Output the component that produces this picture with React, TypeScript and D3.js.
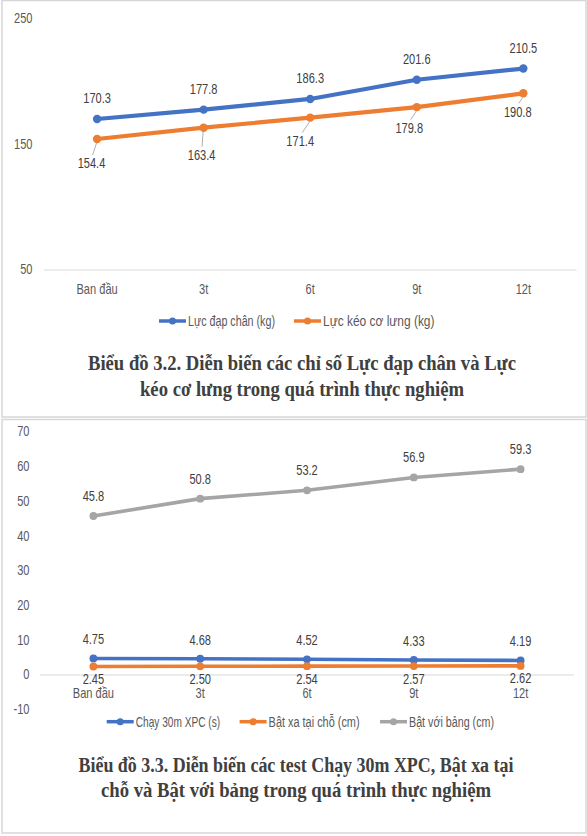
import React, { useEffect, useRef } from 'react';
import * as d3 from 'd3';

// time points
const categories = ['Ban đầu', '3t', '6t', '9t', '12t'];

// chart 3.2
const lucDapChan = [170.3, 177.8, 186.3, 201.6, 210.5];
const lucKeoCoLung = [154.4, 163.4, 171.4, 179.8, 190.8];
const yTicksTop = [50, 150, 250];

// chart 3.3
const chay30m = [4.75, 4.68, 4.52, 4.33, 4.19];
const batXa = [2.45, 2.5, 2.54, 2.57, 2.62];
const batVoiBang = [45.8, 50.8, 53.2, 56.9, 59.3];
const yTicksBottom = [-10, 0, 10, 20, 30, 40, 50, 60, 70];

const BLUE = '#4472C4';
const ORANGE = '#ED7D31';
const GRAY = '#A5A5A5';
const AXIS_FONT = "'Liberation Sans', 'Noto Sans', sans-serif";
const CAPTION_FONT = "'Liberation Serif', 'DejaVu Serif', serif";
const SQUEEZE = 0.79; // reference text is narrow (calibri-ish)

// hand placed label nudges for the orange series of chart 3.2 (like excel does)
const orangeNudge: [number, number][] = [[-5.6, 25], [-2, 28], [-10, 24], [-7.5, 21.5], [-5.6, 19]];

type G = d3.Selection<SVGGElement, unknown, null, undefined>;

const App: React.FC = () => {
    const ref = useRef<SVGSVGElement>(null);

    useEffect(() => {
        const svg = d3.select(ref.current);
        svg.selectAll('*').remove();

        svg.append('rect').attr('width', 587).attr('height', 836).attr('fill', '#ffffff');

        // panel frames
        svg.append('rect').attr('x', 2).attr('y', 0.5).attr('width', 584).attr('height', 416.5)
            .attr('fill', '#ffffff').attr('stroke', '#d6d6d6').attr('stroke-width', 1.5);
        svg.append('rect').attr('x', 2).attr('y', 419.5).attr('width', 584).attr('height', 413.5)
            .attr('fill', '#ffffff').attr('stroke', '#d6d6d6').attr('stroke-width', 1.5);

        // narrow text helper
        const txt = (g: G, x: number, y: number, s: string, anchor: string, fill: string) => {
            g.append('text')
                .attr('transform', `translate(${x},${y}) scale(${SQUEEZE},1)`)
                .attr('text-anchor', anchor).attr('dominant-baseline', 'central')
                .attr('font-family', AXIS_FONT).attr('font-size', 14).attr('fill', fill)
                .text(s);
        };

        const drawSeries = (
            g: G,
            x: d3.ScalePoint<string>,
            y: d3.ScaleLinear<number, number>,
            values: number[],
            color: string,
            width: number,
            r: number
        ) => {
            const line = d3.line<number>()
                .x((_, i) => x(categories[i]) as number)
                .y(d => y(d));
            g.append('path').datum(values).attr('d', line)
                .attr('fill', 'none').attr('stroke', color).attr('stroke-width', width)
                .attr('stroke-linejoin', 'round').attr('stroke-linecap', 'round');
            g.selectAll(null).data(values).enter().append('circle')
                .attr('cx', (_, i) => x(categories[i]) as number)
                .attr('cy', d => y(d))
                .attr('r', r).attr('fill', color);
        };

        const labels = (
            g: G,
            x: d3.ScalePoint<string>,
            y: d3.ScaleLinear<number, number>,
            values: number[],
            fmt: (v: number) => string,
            dy: number
        ) => {
            values.forEach((v, i) => txt(g, x(categories[i]) as number, y(v) + dy, fmt(v), 'middle', '#404040'));
        };

        const legend = (g: G, items: { label: string; color: string; x: number; w: number }[], cy: number) => {
            items.forEach(it => {
                g.append('line').attr('x1', it.x).attr('x2', it.x + 27).attr('y1', cy).attr('y2', cy)
                    .attr('stroke', it.color).attr('stroke-width', 3.5);
                g.append('circle').attr('cx', it.x + 13.5).attr('cy', cy).attr('r', 3.5).attr('fill', it.color);
                g.append('text').attr('x', it.x + 29).attr('y', cy).attr('dominant-baseline', 'central')
                    .attr('font-family', AXIS_FONT).attr('font-size', 14).attr('fill', '#595959')
                    .attr('textLength', it.w).attr('lengthAdjust', 'spacingAndGlyphs')
                    .text(it.label);
            });
        };

        const caption = (lines: { text: string; y: number; cx: number; w: number }[]) => {
            lines.forEach(l => {
                svg.append('text').attr('x', l.cx - l.w / 2).attr('y', l.y)
                    .attr('font-family', CAPTION_FONT).attr('font-weight', 'bold').attr('font-size', 20)
                    .attr('fill', '#404040')
                    .attr('textLength', l.w).attr('lengthAdjust', 'spacingAndGlyphs')
                    .text(l.text);
            });
        };

        // ---------- chart 3.2 ----------
        const x1 = d3.scalePoint<string>().domain(categories).range([43.8, 576.6]).padding(0.5);
        const y1 = d3.scaleLinear().domain([50, 250]).range([270, 19]);
        const g1 = svg.append('g');

        g1.append('line').attr('x1', 43.8).attr('x2', 576.6).attr('y1', y1(50)).attr('y2', y1(50))
            .attr('stroke', '#d9d9d9').attr('stroke-width', 1);

        yTicksTop.forEach(t => txt(g1, 32.5, y1(t), String(t), 'end', '#595959'));
        categories.forEach(c => txt(g1, x1(c) as number, 290, c, 'middle', '#595959'));

        drawSeries(g1, x1, y1, lucDapChan, BLUE, 4.2, 4.2);
        drawSeries(g1, x1, y1, lucKeoCoLung, ORANGE, 4.2, 4.2);
        labels(g1, x1, y1, lucDapChan, v => v.toFixed(1), -20.5);

        // orange labels sit below with leader lines
        lucKeoCoLung.forEach((v, i) => {
            const px = x1(categories[i]) as number;
            const py = y1(v);
            const [dx, dy] = orangeNudge[i];
            g1.append('line').attr('x1', px - 0.5).attr('y1', py + 4)
                .attr('x2', px + dx * 0.8).attr('y2', py + dy - 9)
                .attr('stroke', '#a6a6a6').attr('stroke-width', 0.9);
            txt(g1, px + dx, py + dy, v.toFixed(1), 'middle', '#404040');
        });

        legend(g1, [
            { label: 'Lực đạp chân (kg)', color: BLUE, x: 159, w: 87 },
            { label: 'Lực kéo cơ lưng (kg)', color: ORANGE, x: 294, w: 111.5 },
        ], 321);

        caption([
            { text: 'Biểu đồ 3.2. Diễn biến các chỉ số Lực đạp chân và Lực', y: 370, cx: 302, w: 428 },
            { text: 'kéo cơ lưng trong quá trình thực nghiệm', y: 396, cx: 302, w: 324 },
        ]);

        // ---------- chart 3.3 ----------
        const x2 = d3.scalePoint<string>().domain(categories).range([40, 574]).padding(0.5);
        const y2 = d3.scaleLinear().domain([-10, 70]).range([709.7, 432]);
        const g2 = svg.append('g');

        g2.append('line').attr('x1', 40).attr('x2', 574).attr('y1', y2(0)).attr('y2', y2(0))
            .attr('stroke', '#d9d9d9').attr('stroke-width', 1);

        yTicksBottom.forEach(t => txt(g2, 29.5, y2(t), String(t), 'end', '#595959'));
        categories.forEach(c => txt(g2, x2(c) as number, 694, c, 'middle', '#595959'));

        drawSeries(g2, x2, y2, chay30m, BLUE, 3.6, 3.9);
        drawSeries(g2, x2, y2, batXa, ORANGE, 3.6, 3.9);
        drawSeries(g2, x2, y2, batVoiBang, GRAY, 3.6, 3.9);
        labels(g2, x2, y2, chay30m, v => v.toFixed(2), -18.5);
        labels(g2, x2, y2, batXa, v => v.toFixed(2), 13);
        labels(g2, x2, y2, batVoiBang, v => v.toFixed(1), -19.5);

        legend(g2, [
            { label: 'Chạy 30m XPC (s)', color: BLUE, x: 106.7, w: 84.5 },
            { label: 'Bật xa tại chỗ (cm)', color: ORANGE, x: 239.6, w: 91 },
            { label: 'Bật với bảng (cm)', color: GRAY, x: 380, w: 85 },
        ], 721.7);

        caption([
            { text: 'Biểu đồ 3.3. Diễn biến các test Chạy 30m XPC, Bật xa tại', y: 771.7, cx: 296, w: 435 },
            { text: 'chỗ và Bật với bảng trong quá trình thực nghiệm', y: 796.7, cx: 296, w: 390 },
        ]);
    }, []);

    return (
        <svg ref={ref} width="587" height="836"
            style={{ position: 'absolute', left: 0, top: 0, display: 'block' }}></svg>
    );
};

export default App;
